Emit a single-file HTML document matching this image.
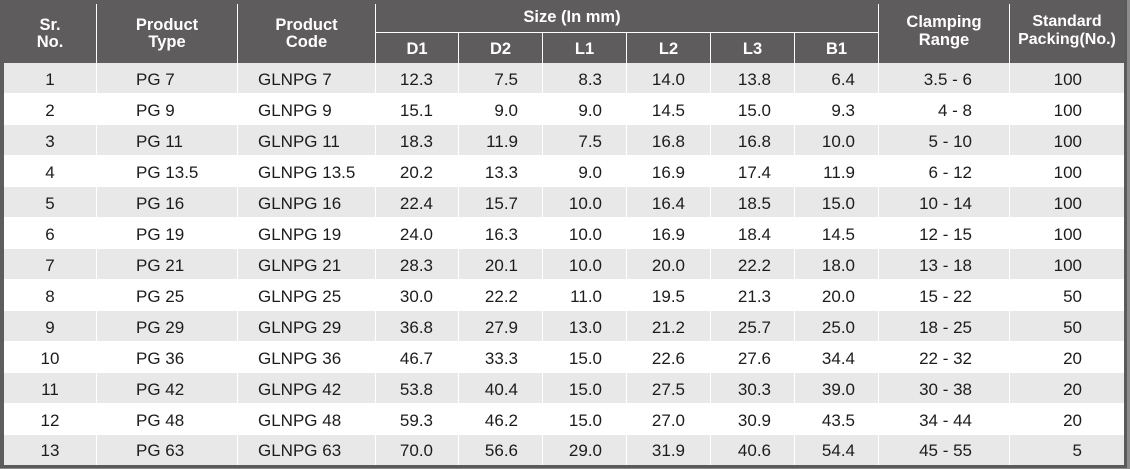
<!DOCTYPE html>
<html><head><meta charset="utf-8">
<style>
*{margin:0;padding:0;box-sizing:border-box}
html,body{width:1130px;height:469px;overflow:hidden;background:#fff;font-family:"Liberation Sans",sans-serif}
.abs{position:absolute}
.hdr{left:0;top:0;width:1124px;height:63px;background:#5e5c5d}
.lb{left:0;top:0;width:4px;height:468px;background:#5e5c5d}
.rb{left:1124px;top:0;width:3px;height:468px;background:#5a5a5a}
.rb2{left:1127px;top:0;width:3px;height:469px;background:#8c8c8c}
.bb{left:0;top:465px;width:1127px;height:3px;background:#5a5a5a}
.bb2{left:0;top:468px;width:1130px;height:1px;background:#8c8c8c}
.g{left:4px;width:1120px;height:30px;background:#e8e8e8}
.v{width:1px;background:#fff}
.h{left:375px;top:32px;width:503px;height:1px;background:#fff}
.ht{color:#fff;font-weight:bold;font-size:16.5px;line-height:16.5px;text-align:center;white-space:nowrap}
.r{position:absolute;left:0;width:1130px;height:30px;line-height:30px;font-size:17px;color:#1c1c1c}
.r span{position:absolute;top:0;white-space:nowrap}
.a{left:4px;width:92px;text-align:center}
.b{left:136px}
.c{left:258px}
.d{right:697px}
.e{right:612px}
.f{right:528px}
.gg{right:445px}
.hh{right:359px}
.i{right:275px}
.j{right:158px}
.k{right:48px}
</style></head><body>
<div class="abs hdr"></div>
<div class="abs lb"></div>

<div class="abs g" style="top:63px"></div>
<div class="abs g" style="top:125px"></div>
<div class="abs g" style="top:187px"></div>
<div class="abs g" style="top:249px"></div>
<div class="abs g" style="top:311px"></div>
<div class="abs g" style="top:373px"></div>
<div class="abs g" style="top:435px"></div>

<div class="abs v" style="left:96px;top:4px;height:461px"></div>
<div class="abs v" style="left:237px;top:4px;height:461px"></div>
<div class="abs v" style="left:375px;top:4px;height:461px"></div>
<div class="abs v" style="left:458px;top:33px;height:432px"></div>
<div class="abs v" style="left:542px;top:33px;height:432px"></div>
<div class="abs v" style="left:626px;top:33px;height:432px"></div>
<div class="abs v" style="left:710px;top:33px;height:432px"></div>
<div class="abs v" style="left:794px;top:33px;height:432px"></div>
<div class="abs v" style="left:878px;top:4px;height:461px"></div>
<div class="abs v" style="left:1009px;top:4px;height:461px"></div>
<div class="abs h"></div>

<div class="abs rb"></div>
<div class="abs rb2"></div>
<div class="abs bb"></div>
<div class="abs bb2"></div>

<div class="abs ht" style="left:4px;top:17px;width:92px">Sr.<br>No.</div>
<div class="abs ht" style="left:97px;top:17px;width:140px">Product<br>Type</div>
<div class="abs ht" style="left:238px;top:17px;width:137px">Product<br>Code</div>
<div class="abs ht" style="left:507px;top:9px;width:130px">Size (In mm)</div>
<div class="abs ht" style="left:376px;top:41px;width:82px">D1</div>
<div class="abs ht" style="left:459px;top:41px;width:83px">D2</div>
<div class="abs ht" style="left:543px;top:41px;width:83px">L1</div>
<div class="abs ht" style="left:627px;top:41px;width:83px">L2</div>
<div class="abs ht" style="left:711px;top:41px;width:83px">L3</div>
<div class="abs ht" style="left:795px;top:41px;width:83px">B1</div>
<div class="abs ht" style="left:879px;top:13px;width:130px;line-height:18px">Clamping<br>Range</div>
<div class="abs ht" style="left:1010px;top:13px;width:114px;line-height:18px;font-size:16px">Standard<br>Packing(No.)</div>

<div class="r" style="top:65px"><span class="a">1</span><span class="b">PG 7</span><span class="c">GLNPG 7</span><span class="d">12.3</span><span class="e">7.5</span><span class="f">8.3</span><span class="gg">14.0</span><span class="hh">13.8</span><span class="i">6.4</span><span class="j">3.5 - 6</span><span class="k">100</span></div>
<div class="r" style="top:96px"><span class="a">2</span><span class="b">PG 9</span><span class="c">GLNPG 9</span><span class="d">15.1</span><span class="e">9.0</span><span class="f">9.0</span><span class="gg">14.5</span><span class="hh">15.0</span><span class="i">9.3</span><span class="j">4 - 8</span><span class="k">100</span></div>
<div class="r" style="top:127px"><span class="a">3</span><span class="b">PG 11</span><span class="c">GLNPG 11</span><span class="d">18.3</span><span class="e">11.9</span><span class="f">7.5</span><span class="gg">16.8</span><span class="hh">16.8</span><span class="i">10.0</span><span class="j">5 - 10</span><span class="k">100</span></div>
<div class="r" style="top:158px"><span class="a">4</span><span class="b">PG 13.5</span><span class="c">GLNPG 13.5</span><span class="d">20.2</span><span class="e">13.3</span><span class="f">9.0</span><span class="gg">16.9</span><span class="hh">17.4</span><span class="i">11.9</span><span class="j">6 - 12</span><span class="k">100</span></div>
<div class="r" style="top:189px"><span class="a">5</span><span class="b">PG 16</span><span class="c">GLNPG 16</span><span class="d">22.4</span><span class="e">15.7</span><span class="f">10.0</span><span class="gg">16.4</span><span class="hh">18.5</span><span class="i">15.0</span><span class="j">10 - 14</span><span class="k">100</span></div>
<div class="r" style="top:220px"><span class="a">6</span><span class="b">PG 19</span><span class="c">GLNPG 19</span><span class="d">24.0</span><span class="e">16.3</span><span class="f">10.0</span><span class="gg">16.9</span><span class="hh">18.4</span><span class="i">14.5</span><span class="j">12 - 15</span><span class="k">100</span></div>
<div class="r" style="top:251px"><span class="a">7</span><span class="b">PG 21</span><span class="c">GLNPG 21</span><span class="d">28.3</span><span class="e">20.1</span><span class="f">10.0</span><span class="gg">20.0</span><span class="hh">22.2</span><span class="i">18.0</span><span class="j">13 - 18</span><span class="k">100</span></div>
<div class="r" style="top:282px"><span class="a">8</span><span class="b">PG 25</span><span class="c">GLNPG 25</span><span class="d">30.0</span><span class="e">22.2</span><span class="f">11.0</span><span class="gg">19.5</span><span class="hh">21.3</span><span class="i">20.0</span><span class="j">15 - 22</span><span class="k">50</span></div>
<div class="r" style="top:313px"><span class="a">9</span><span class="b">PG 29</span><span class="c">GLNPG 29</span><span class="d">36.8</span><span class="e">27.9</span><span class="f">13.0</span><span class="gg">21.2</span><span class="hh">25.7</span><span class="i">25.0</span><span class="j">18 - 25</span><span class="k">50</span></div>
<div class="r" style="top:344px"><span class="a">10</span><span class="b">PG 36</span><span class="c">GLNPG 36</span><span class="d">46.7</span><span class="e">33.3</span><span class="f">15.0</span><span class="gg">22.6</span><span class="hh">27.6</span><span class="i">34.4</span><span class="j">22 - 32</span><span class="k">20</span></div>
<div class="r" style="top:375px"><span class="a">11</span><span class="b">PG 42</span><span class="c">GLNPG 42</span><span class="d">53.8</span><span class="e">40.4</span><span class="f">15.0</span><span class="gg">27.5</span><span class="hh">30.3</span><span class="i">39.0</span><span class="j">30 - 38</span><span class="k">20</span></div>
<div class="r" style="top:406px"><span class="a">12</span><span class="b">PG 48</span><span class="c">GLNPG 48</span><span class="d">59.3</span><span class="e">46.2</span><span class="f">15.0</span><span class="gg">27.0</span><span class="hh">30.9</span><span class="i">43.5</span><span class="j">34 - 44</span><span class="k">20</span></div>
<div class="r" style="top:436px"><span class="a">13</span><span class="b">PG 63</span><span class="c">GLNPG 63</span><span class="d">70.0</span><span class="e">56.6</span><span class="f">29.0</span><span class="gg">31.9</span><span class="hh">40.6</span><span class="i">54.4</span><span class="j">45 - 55</span><span class="k">5</span></div>
</body></html>
